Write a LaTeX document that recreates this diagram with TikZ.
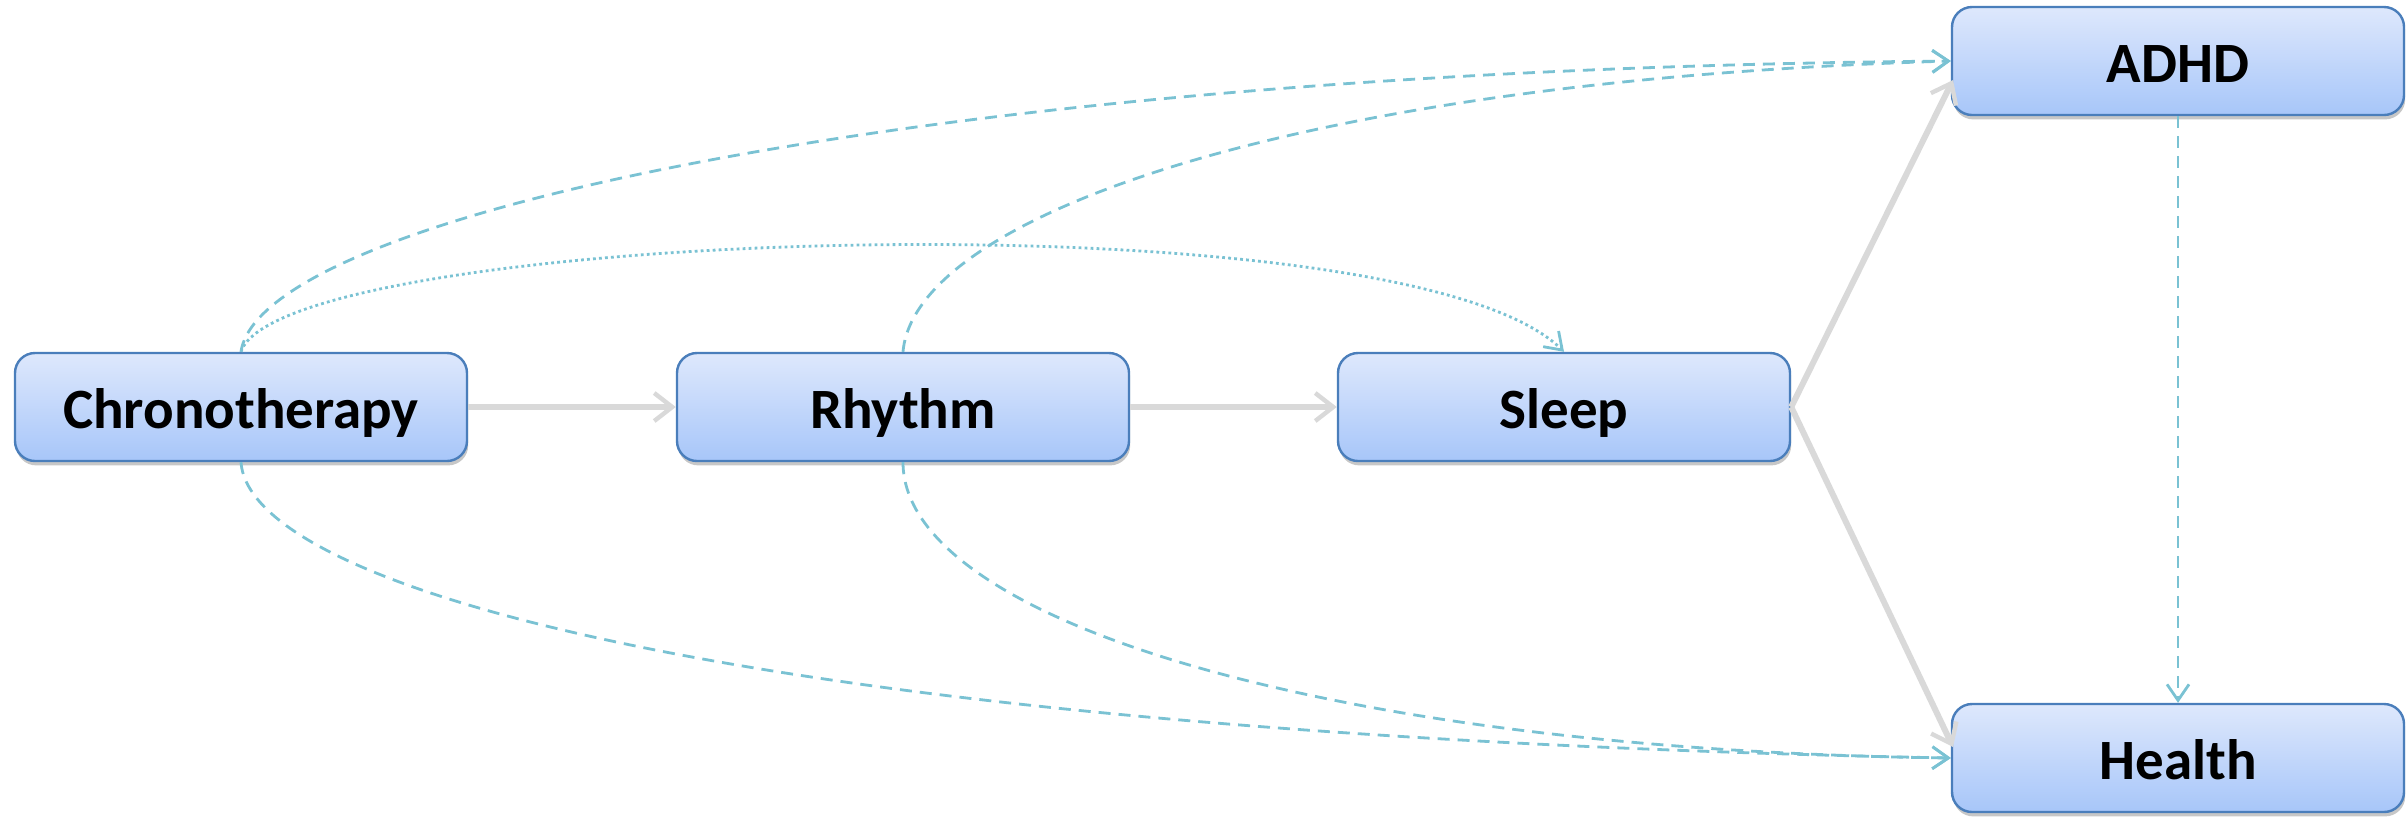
\documentclass[tikz,border=0pt]{standalone}
\usepackage{fontspec}
\setmainfont{Carlito}
\usetikzlibrary{arrows.meta,shadows}
\definecolor{boxline}{HTML}{4A7EBB}
\definecolor{boxtop}{HTML}{DEE8FC}
\definecolor{boxbot}{HTML}{A7C6F9}
\definecolor{tealline}{HTML}{7AC2D3}
\definecolor{gline}{HTML}{D9D9D9}
\begin{document}
\begin{tikzpicture}[x=0.5pt,y=-0.5pt,
  box/.style={draw=boxline, line width=1.2pt, rounded corners=10pt,
    minimum width=226pt, minimum height=54pt, inner sep=0pt,
    text height=21pt, text depth=0pt,
    top color=boxtop, bottom color=boxbot,
    font=\fontsize{28.5}{34}\selectfont\bfseries,
    drop shadow={shadow xshift=0.6pt, shadow yshift=-2.2pt, opacity=0.22, fill=black}},
  garrow/.style={draw=gline, line width=3pt,
    -{Straight Barb[length=9pt,width=14pt,line width=2.2pt]}},
  dasharrow/.style={draw=tealline, line width=1.4pt, dash pattern=on 6pt off 4pt,
    -{Straight Barb[length=8pt,width=11pt,line width=1.4pt]}},
  dotarrow/.style={draw=tealline, line width=1.4pt, dash pattern=on 1.4pt off 1.6pt,
    -{Straight Barb[length=8pt,width=11pt,line width=1.4pt]}}
]
\useasboundingbox (0,0) rectangle (2408,816);

\node[box] (chr) at (241,407) {Chronotherapy};
\node[box] (rhy) at (903,407) {Rhythm};
\node[box] (slp) at (1564,407) {Sleep};
\node[box] (adhd) at (2178,61) {ADHD};
\node[box] (hlt) at (2178,758) {Health};

\coordinate (adhdin) at (1953,80);
\coordinate (hltin) at (1953,747);

% grey solid arrows
\draw[garrow] (chr.east) -- (rhy.west);
\draw[garrow] (rhy.east) -- (slp.west);
\draw[garrow] (slp.east) -- (adhdin);
\draw[garrow] (slp.east) -- (hltin);

% teal dashed / dotted arrows
\draw[dasharrow] (chr.north) .. controls (260,220) and (900,70) .. (adhd.west);
\draw[dotarrow] (chr.north) .. controls (280,230) and (1400,190) .. (slp.north);
\draw[dasharrow] (rhy.north) .. controls (915,215) and (1300,80) .. (adhd.west);
\draw[dasharrow] (chr.south) .. controls (250,590) and (760,735) .. (hlt.west);
\draw[dasharrow] (rhy.south) .. controls (903,620) and (1330,750) .. (hlt.west);
\draw[dasharrow] (adhd.south) -- (hlt.north);
\end{tikzpicture}
\end{document}
